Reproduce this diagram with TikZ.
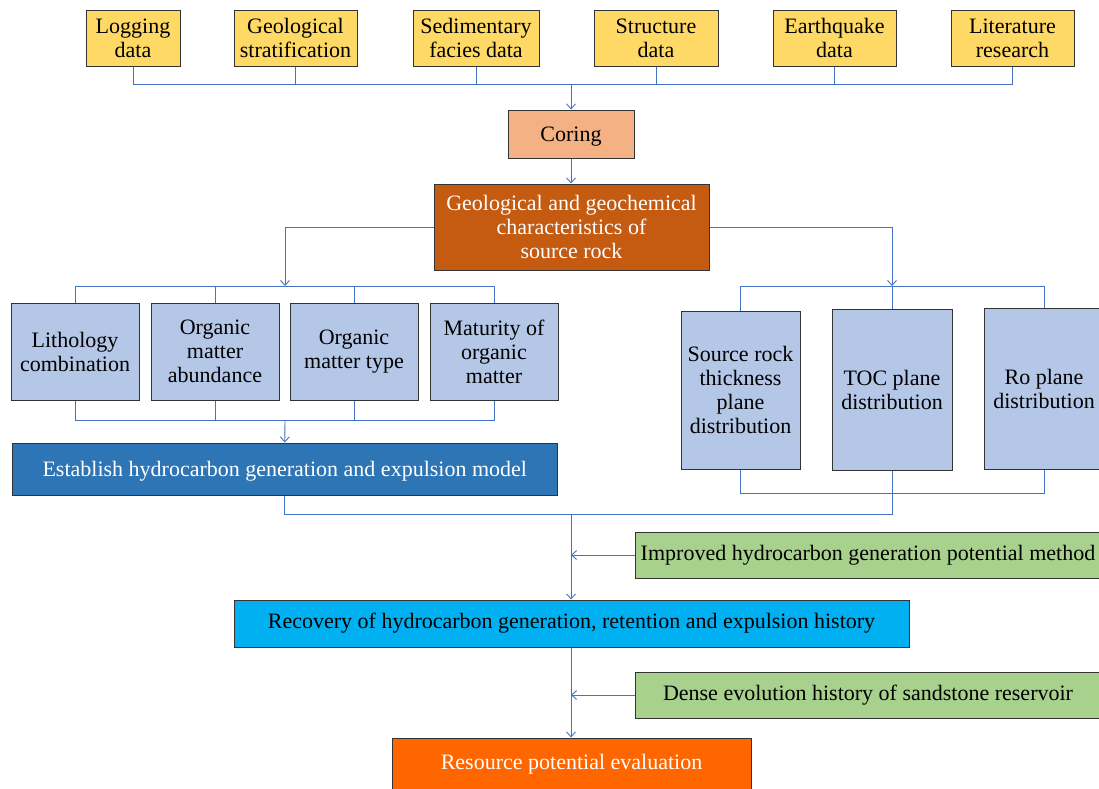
\documentclass[tikz,border=0pt]{standalone}
\usepackage{fontspec}
\setmainfont{Liberation Serif}
\usetikzlibrary{arrows.meta}
\definecolor{cYellow}{HTML}{FFD966}
\definecolor{cSalmon}{HTML}{F4B183}
\definecolor{cRust}{HTML}{C55A11}
\definecolor{cLblue}{HTML}{B4C7E7}
\definecolor{cMblue}{HTML}{2E75B6}
\definecolor{cCyan}{HTML}{00B0F0}
\definecolor{cGreen}{HTML}{A9D18E}
\definecolor{cOrange}{HTML}{FF6600}
\definecolor{cLine}{HTML}{4472C4}
\definecolor{cBorder}{HTML}{333333}
\tikzset{
  box/.style={draw=cBorder, line width=1pt, inner sep=0pt, align=center,
    font=\fontsize{22}{24}\selectfont},
  link/.style={draw=cLine, line width=0.9pt},
  arr/.style={link, -{Straight Barb[length=5pt,width=9pt]}},
}
\newcommand{\bx}[7]{% name, x1, x2, y1, y2, style, text
  \node[box,#6,minimum width={(#3-#2)*1pt},minimum height={(#5-#4)*1pt}] (#1) at ({(#2+#3)/2},{(#4+#5)/2}) {#7};}
\begin{document}
\begin{tikzpicture}[x=1pt,y=-1pt]
\useasboundingbox (0,0) rectangle (1099,788);
% top row
\bx{log}{86}{180}{10}{66}{fill=cYellow}{Logging\\data}
\bx{strat}{234}{357}{10}{66}{fill=cYellow}{Geological\\stratification}
\bx{sed}{413}{539}{10}{66}{fill=cYellow}{Sedimentary\\facies data}
\bx{struc}{594}{718}{10}{66}{fill=cYellow}{Structure\\data}
\bx{quake}{773}{896}{10}{66}{fill=cYellow}{Earthquake\\data}
\bx{lit}{951}{1074}{10}{66}{fill=cYellow}{Literature\\research}
\bx{cor}{508}{634}{110}{158}{fill=cSalmon}{\raisebox{-7pt}[0pt][0pt]{Coring}}
\bx{geo}{434}{709}{184}{270}{fill=cRust,text=white}{Geological and geochemical\\characteristics of\\source rock}
% left group
\bx{lith}{11}{139}{303}{400}{fill=cLblue}{Lithology\\combination}
\bx{abun}{151}{279}{303}{400}{fill=cLblue}{Organic\\matter\\abundance}
\bx{otype}{290}{418}{303}{400}{fill=cLblue}{Organic\\matter type}
\bx{mat}{430}{558}{303}{400}{fill=cLblue}{Maturity of\\organic\\matter}
\bx{est}{12.5}{557}{443}{495}{fill=cMblue,text=white}{\raisebox{-7pt}[0pt][0pt]{Establish hydrocarbon generation and expulsion model}}
% right group
\bx{src}{681}{800}{311}{469}{fill=cLblue}{Source rock\\thickness\\plane\\distribution}
\bx{toc}{832}{952}{309}{470}{fill=cLblue}{TOC plane\\distribution}
\bx{ro}{984}{1104}{308}{469}{fill=cLblue}{Ro plane\\distribution}
% lower
\bx{imp}{635}{1101}{532}{578}{fill=cGreen}{Improved hydrocarbon generation potential method}
\bx{rec}{234}{909}{600}{647}{fill=cCyan}{Recovery of hydrocarbon generation, retention and expulsion history}
\bx{dense}{635}{1101}{672}{718}{fill=cGreen}{Dense evolution history of sandstone reservoir}
\bx{res}{392}{751}{738}{790}{fill=cOrange,text=white}{Resource potential evaluation}
% bar coordinates
\coordinate (tb) at (571,84);
\coordinate (lb) at (285,286);
\coordinate (rb) at (892,286);
\coordinate (lbb) at (285,420);
\coordinate (rbb) at (892,493);
\coordinate (mb) at (571,514);
% top collector
\draw[link] (log.south) |- (lit.south |- tb) -- (lit.south);
\foreach \n in {strat,sed,struc,quake} \draw[link] (\n.south) -- (\n.south |- tb);
\draw[arr] (cor.north |- tb) -- (cor.north);
\draw[arr] (cor.south) -- (geo.north -| cor.south);
% branches from geo
\draw[arr] (geo.west) -| (lb);
\draw[arr] (geo.east) -| (rb);
\draw[link] (lith.north) |- (mat.north |- lb) -- (mat.north);
\foreach \n in {abun,otype} \draw[link] (\n.north) -- (\n.north |- lb);
\draw[link] (src.north) |- (ro.north |- rb) -- (ro.north);
\draw[link] (toc.north) -- (rb);
% left bottom collector
\draw[link] (lith.south) |- (mat.south |- lbb) -- (mat.south);
\foreach \n in {abun,otype} \draw[link] (\n.south) -- (\n.south |- lbb);
\draw[arr] (lbb) -- (est.north);
% right bottom collector
\draw[link] (src.south) |- (ro.south |- rbb) -- (ro.south);
% merge
\draw[link] (est.south) |- (mb -| toc.south) -- (toc.south);
\draw[arr] (mb) -- (rec.north -| mb);
\draw[arr] (imp.west) -- (imp.west -| mb);
\draw[arr] (rec.south -| mb) -- (res.north -| mb);
\draw[arr] (dense.west) -- (dense.west -| mb);
\end{tikzpicture}
\end{document}
